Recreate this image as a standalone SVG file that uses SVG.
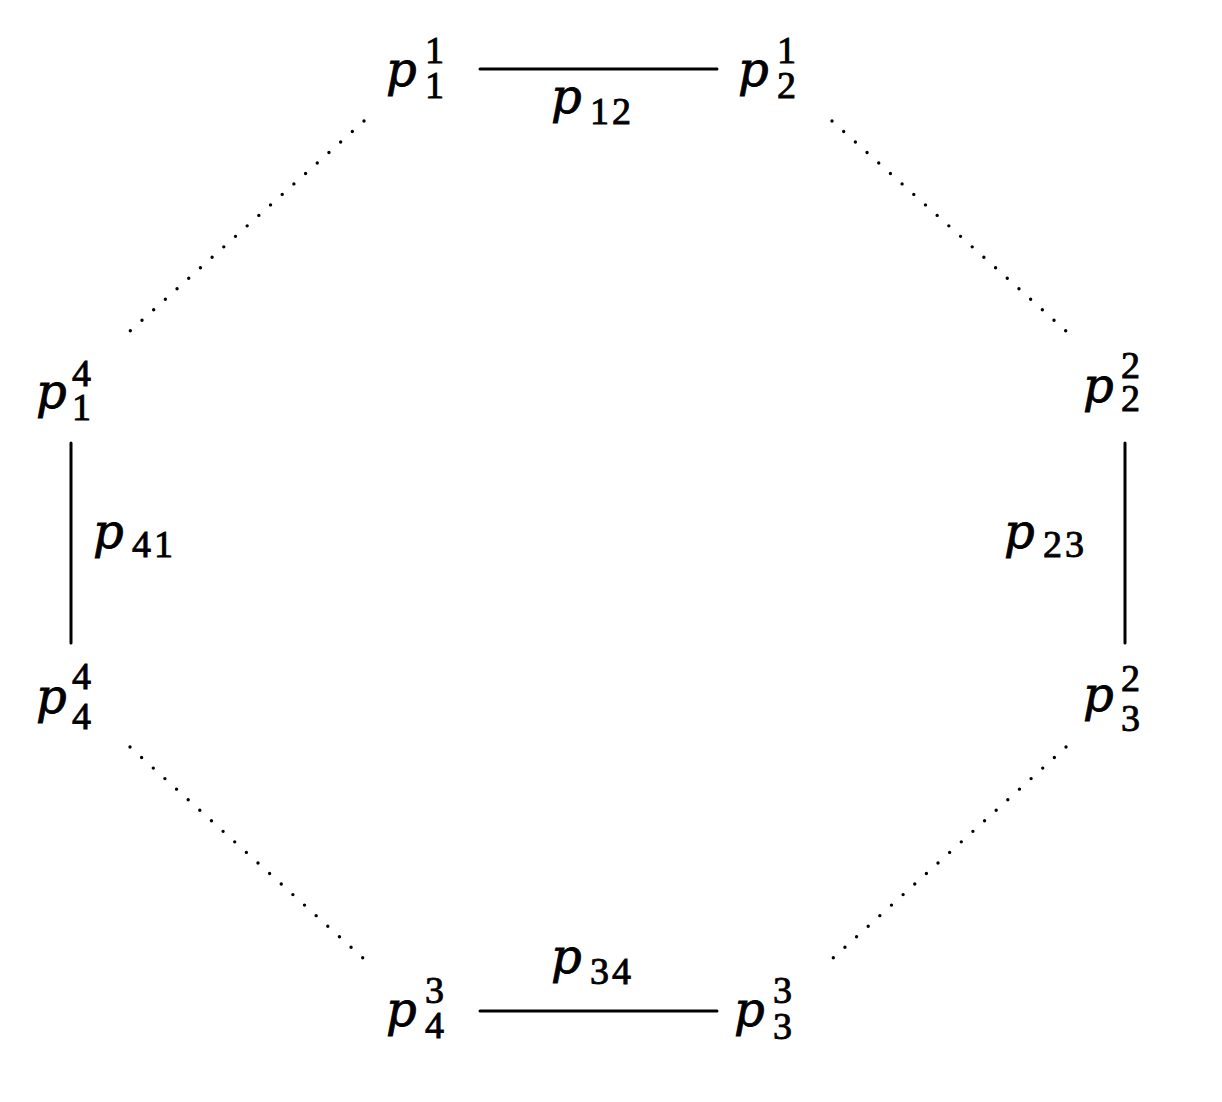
<svg xmlns="http://www.w3.org/2000/svg" width="1222" height="1102" viewBox="0 0 1222 1102">
<style>
text{fill:#000;stroke:#000}
.p{font-family:'DejaVu Serif','Liberation Serif',serif;font-style:italic;font-size:48px;stroke-width:0.8}
.d{font-family:'Liberation Serif','DejaVu Serif',serif;font-style:normal;font-size:38px;letter-spacing:3px;stroke-width:0.9}
.solid{stroke:#000;stroke-width:3;fill:none;stroke-linecap:round}
.dot{stroke:#000;stroke-width:3.4;fill:none;stroke-linecap:round;stroke-dasharray:0 15.7}
</style>
<rect width="1222" height="1102" fill="#fff"/>
<g id="connectors">
<line class="solid" x1="480" y1="69" x2="717" y2="69"/>
<line class="solid" x1="480" y1="1011" x2="717" y2="1011"/>
<line class="solid" x1="71" y1="443" x2="71" y2="643"/>
<line class="solid" x1="1125" y1="443" x2="1125" y2="643"/>
<line class="dot" x1="364" y1="121" x2="130" y2="331"/>
<line class="dot" x1="832" y1="121" x2="1066" y2="331"/>
<line class="dot" x1="130" y1="747" x2="364" y2="959"/>
<line class="dot" x1="1066" y1="747" x2="832" y2="959"/>
<g id="label-p12"><text class="p" x="551" y="113">p<tspan class="d" x="590" y="124">12</tspan></text></g>
<g id="label-p34"><text class="p" x="551" y="973">p<tspan class="d" x="590" y="984">34</tspan></text></g>
<g id="label-p41"><text class="p" x="93" y="548">p<tspan class="d" x="132" y="557">41</tspan></text></g>
<g id="label-p23"><text class="p" x="1004" y="548">p<tspan class="d" x="1043" y="557">23</tspan></text></g>
</g>
<g id="n-p11"><text class="p" x="386" y="86">p<tspan class="d" x="425" y="63">1</tspan><tspan class="d" x="425" y="98">1</tspan></text></g>
<g id="n-p21"><text class="p" x="738" y="86">p<tspan class="d" x="777" y="63">1</tspan><tspan class="d" x="777" y="98">2</tspan></text></g>
<g id="n-p14"><text class="p" x="36" y="408">p<tspan class="d" x="72" y="386">4</tspan><tspan class="d" x="72" y="420">1</tspan></text></g>
<g id="n-p22"><text class="p" x="1083" y="402">p<tspan class="d" x="1121" y="378">2</tspan><tspan class="d" x="1121" y="411">2</tspan></text></g>
<g id="n-p44"><text class="p" x="36" y="713">p<tspan class="d" x="72" y="689">4</tspan><tspan class="d" x="72" y="729">4</tspan></text></g>
<g id="n-p32"><text class="p" x="1083" y="711">p<tspan class="d" x="1121" y="691">2</tspan><tspan class="d" x="1121" y="731">3</tspan></text></g>
<g id="n-p43"><text class="p" x="386" y="1026">p<tspan class="d" x="425" y="1003">3</tspan><tspan class="d" x="425" y="1038">4</tspan></text></g>
<g id="n-p33"><text class="p" x="734" y="1026">p<tspan class="d" x="773" y="1003">3</tspan><tspan class="d" x="773" y="1039">3</tspan></text></g>
</svg>
